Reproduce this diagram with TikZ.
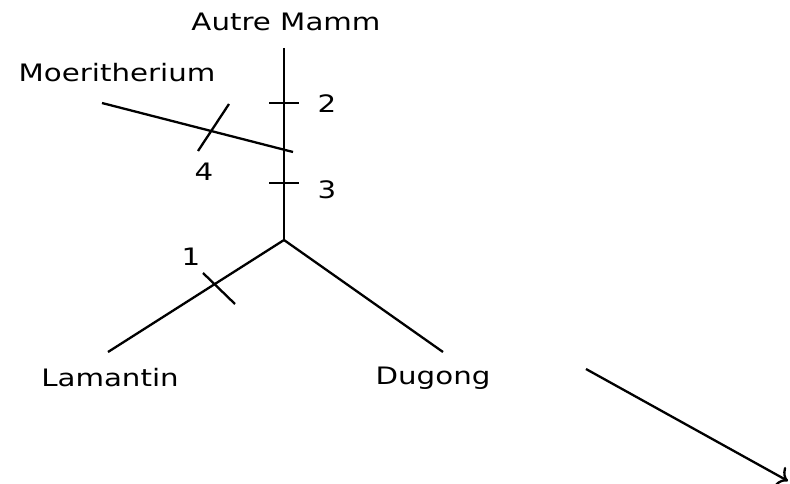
\documentclass[tikz,border=0pt]{standalone}
\usepackage{fontspec}
\setmainfont{DejaVu Sans}[FakeStretch=1.22]
\usetikzlibrary{arrows.meta}
\begin{document}
\begin{tikzpicture}[x=1pt,y=-1pt,
  edge/.style={line width=2.3pt},
  lbl/.style={font=\fontsize{24}{28}\selectfont, inner sep=0pt}]
\useasboundingbox (0,0) rectangle (790,484);
% text labels
\node[lbl] (autre) at (286,22) {Autre Mamm};
\node[lbl] (moer) at (117,73) {Moeritherium};
\node[lbl] (lam) at (110,378) {Lamantin};
\node[lbl] (dug) at (433,378) {Dugong};
\node[lbl] (n1) at (191,257) {1};
\node[lbl] (n2) at (327,104) {2};
\node[lbl] (n3) at (327,190) {3};
\node[lbl] (n4) at (204,172) {4};
% tree coordinates
\coordinate (top) at (284,48);
\coordinate (j) at (284,240);
\coordinate (lamend) at (108,352);
\coordinate (dugend) at (443,352);
\coordinate (moerA) at (102,103);
\coordinate (moerB) at (293,152);
\coordinate (as) at (586,369);
\coordinate (ae) at (788,481);
\draw[edge] (top) -- (j);
\draw[edge] (j) -- (lamend);
\draw[edge] (j) -- (dugend);
\draw[edge] (moerA) -- (moerB);
% ticks
\coordinate (t2a) at (269,103); \coordinate (t2b) at (299,103);
\coordinate (t3a) at (269,183); \coordinate (t3b) at (299,183);
\coordinate (t4a) at (229,104); \coordinate (t4b) at (198,151);
\coordinate (t1a) at (203,273); \coordinate (t1b) at (235,304);
\draw[edge] (t2a) -- (t2b);
\draw[edge] (t3a) -- (t3b);
\draw[edge] (t4a) -- (t4b);
\draw[edge] (t1a) -- (t1b);
% arrow
\draw[edge,-{To[length=10pt,width=22pt]}] (as) -- (ae);
\end{tikzpicture}
\end{document}
